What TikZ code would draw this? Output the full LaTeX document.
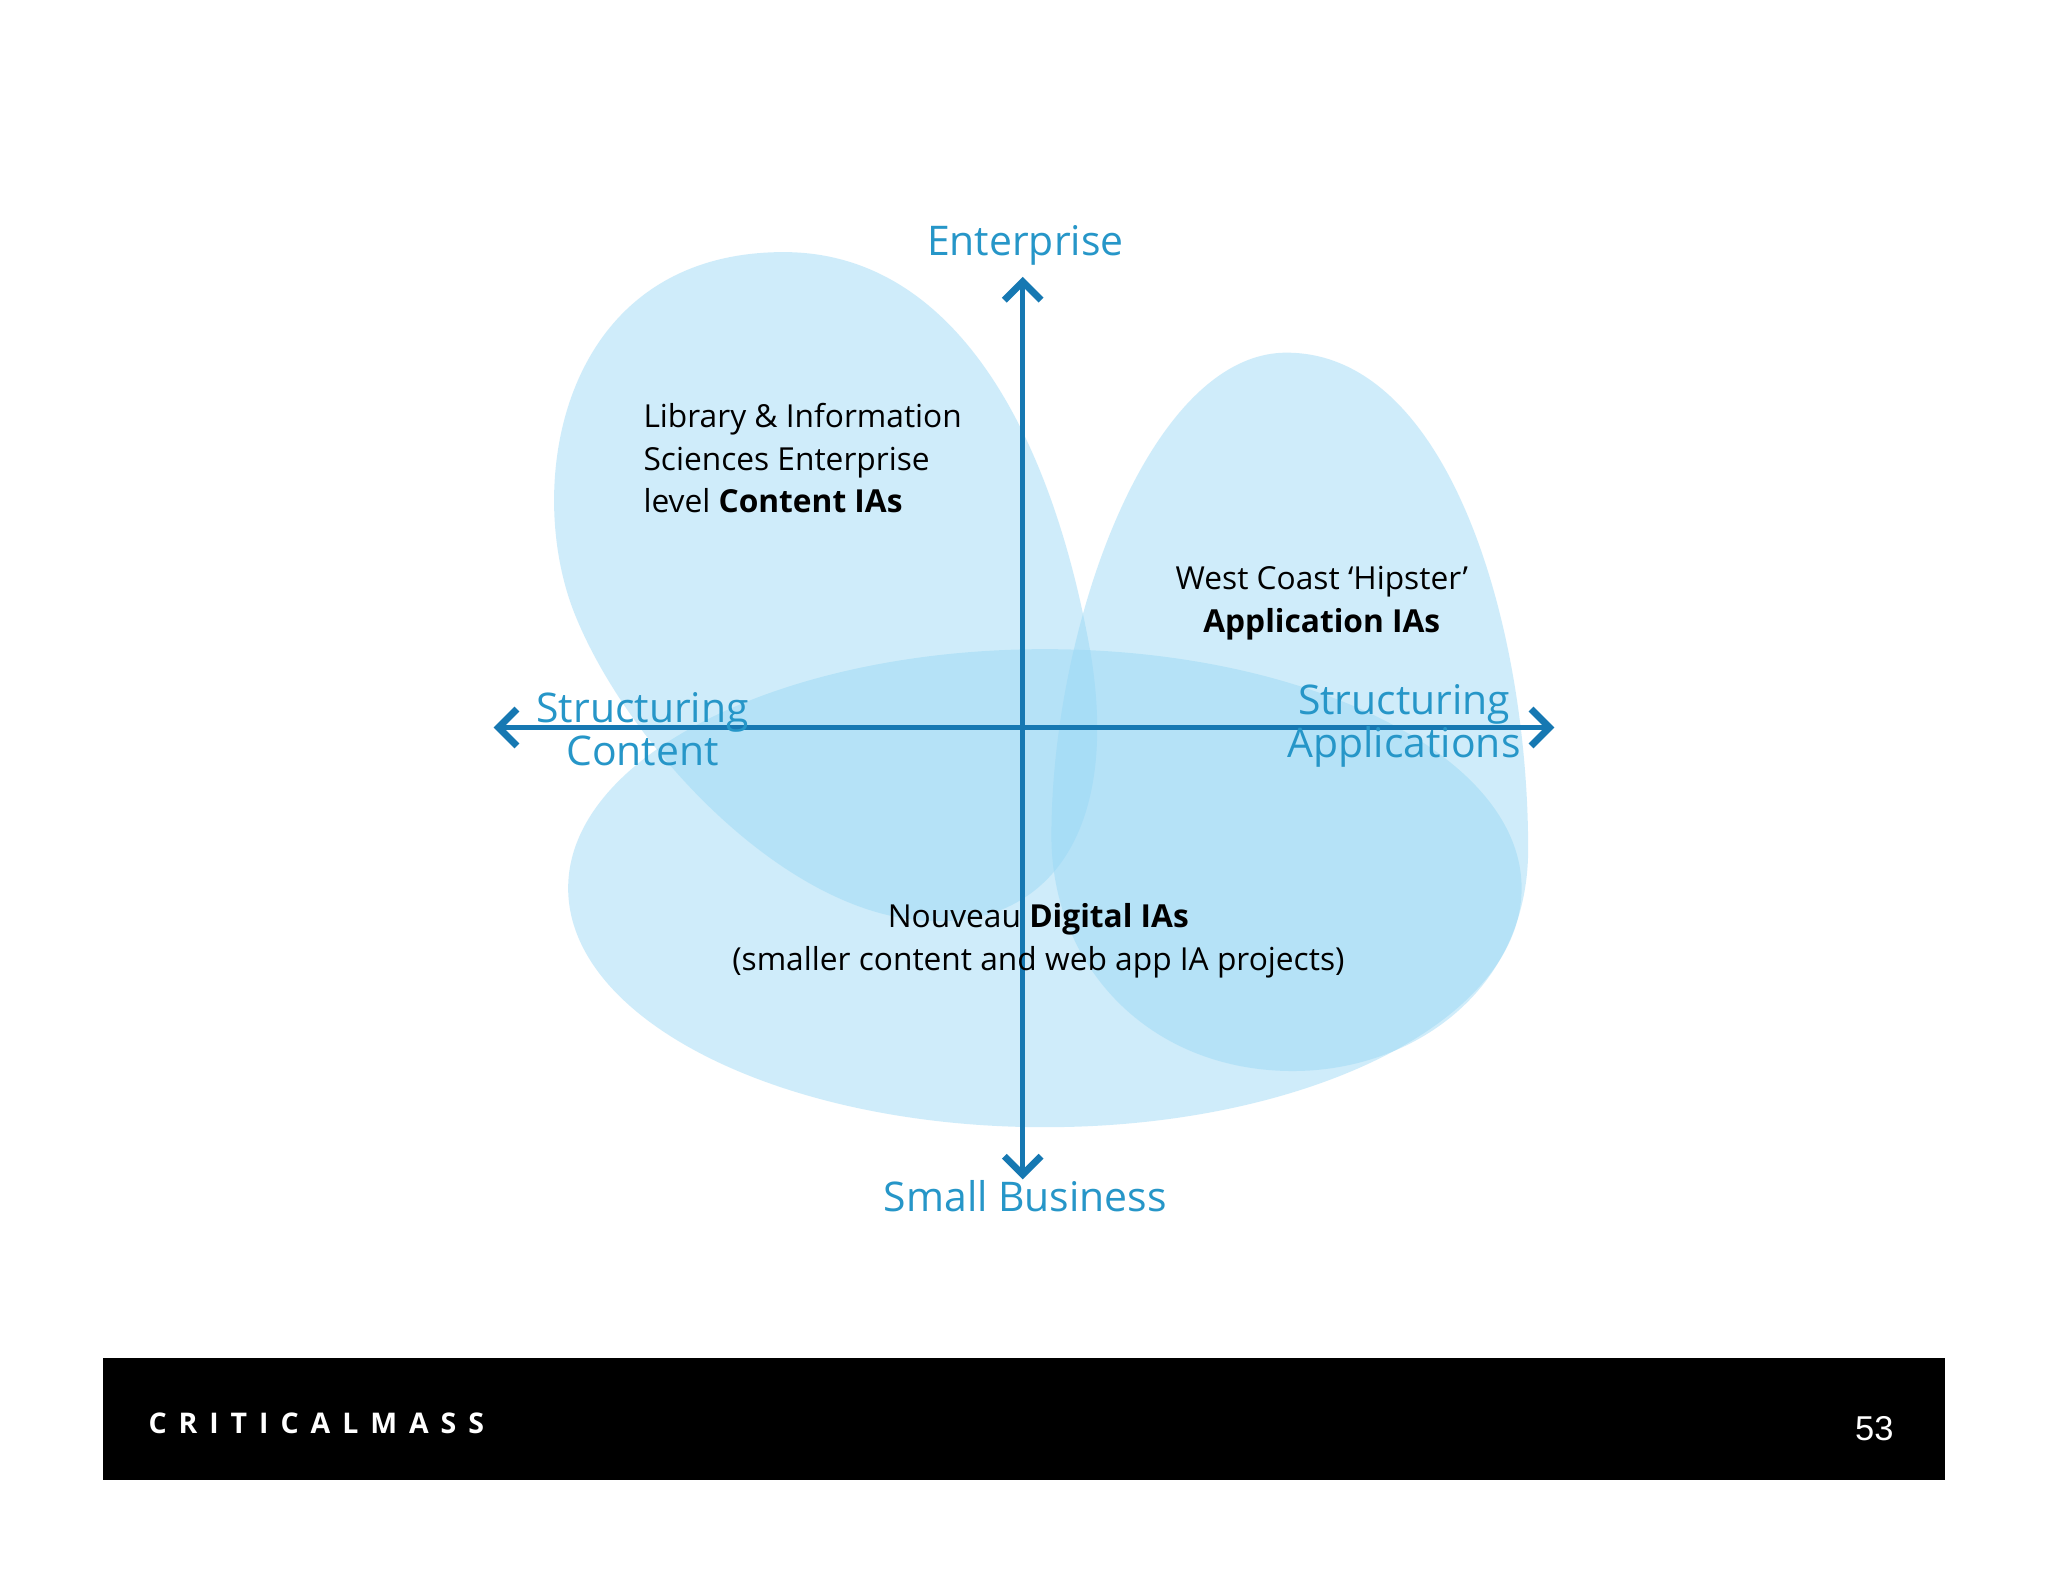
\documentclass[tikz,border=0pt]{standalone}
\usepackage{fontspec}
\setmainfont{Open Sans}
\newfontfamily\helv{Liberation Sans}
\usetikzlibrary{arrows.meta}
\definecolor{blobc}{RGB}{150,215,245}
\definecolor{axisc}{RGB}{22,120,178}
\definecolor{labc}{RGB}{38,150,200}
\tikzset{
  blob/.style={fill=blobc,fill opacity=0.45,draw=none},
  axisline/.style={draw=axisc,line width=1.1pt,{Straight Barb[length=4pt,width=8pt,line width=1.5pt]}-{Straight Barb[length=4pt,width=8pt,line width=1.5pt]}},
  axlab/.style={text=labc,font=\fontsize{8.9}{9.4}\selectfont,align=center,inner sep=0},
  body/.style={text=black,font=\fontsize{6.9}{9.3}\selectfont,inner sep=0},
}
\begin{document}
\begin{tikzpicture}[x=0.01cm,y=-0.01cm]
\useasboundingbox[fill=white] (0,0) rectangle (1568,1211);
% blobs
\path[blob] (800,680) ellipse [x radius=365,y radius=183];
\path[blob] (600,193) .. controls (730,193) and (805,330) .. (835,500) .. controls (858,640) and (800,710) .. (710,705) .. controls (600,700) and (480,570) .. (440,470) .. controls (400,370) and (430,193) .. (600,193) -- cycle;
\path[blob] (985,270) .. controls (1110,270) and (1170,480) .. (1170,650) .. controls (1170,760) and (1080,820) .. (990,820) .. controls (880,820) and (805,740) .. (805,640) .. controls (805,480) and (880,270) .. (985,270) -- cycle;
% axes
\coordinate (L) at (378,557); \coordinate (R) at (1190,557);
\coordinate (T) at (783,212); \coordinate (B) at (783,903);
\draw[axisline] (L) -- (R);
\draw[axisline] (T) -- (B);
\node[axlab,anchor=south] (ent) at (785,204) {Enterprise};
\node[axlab,anchor=north] (sb) at (785,903) {Small Business};
\node[axlab] (sc) at (492,558) {Structuring\\Content};
\node[axlab] (sa) at (1075,556) {Structuring\\Applications};
% texts
\node[body,align=left,anchor=north west] (lib) at (492,308) {Library \& Information\\Sciences Enterprise\\level \textbf{Content IAs}};
\node[body,align=center] (wc) at (1012,462) {West Coast ‘Hipster’\\\textbf{Application IAs}};
\node[body,align=center] (nd) at (795,720) {Nouveau \textbf{Digital IAs}\\(smaller content and web app IA projects)};
% footer
\fill[black] (79,1040) rectangle (1489,1133);
\node[text=white,anchor=west,inner sep=0,font=\fontsize{6.2}{6.2}\selectfont\bfseries] (cm) at (113,1090) {C\hspace{0.42em}R\hspace{0.42em}I\hspace{0.42em}T\hspace{0.42em}I\hspace{0.42em}C\hspace{0.42em}A\hspace{0.42em}L\hspace{0.42em}M\hspace{0.42em}A\hspace{0.42em}S\hspace{0.42em}S};
\node[text=white,inner sep=0,font=\helv\fontsize{7.5}{7.5}\selectfont] (pg) at (1435,1094) {53};
\end{tikzpicture}
\end{document}
